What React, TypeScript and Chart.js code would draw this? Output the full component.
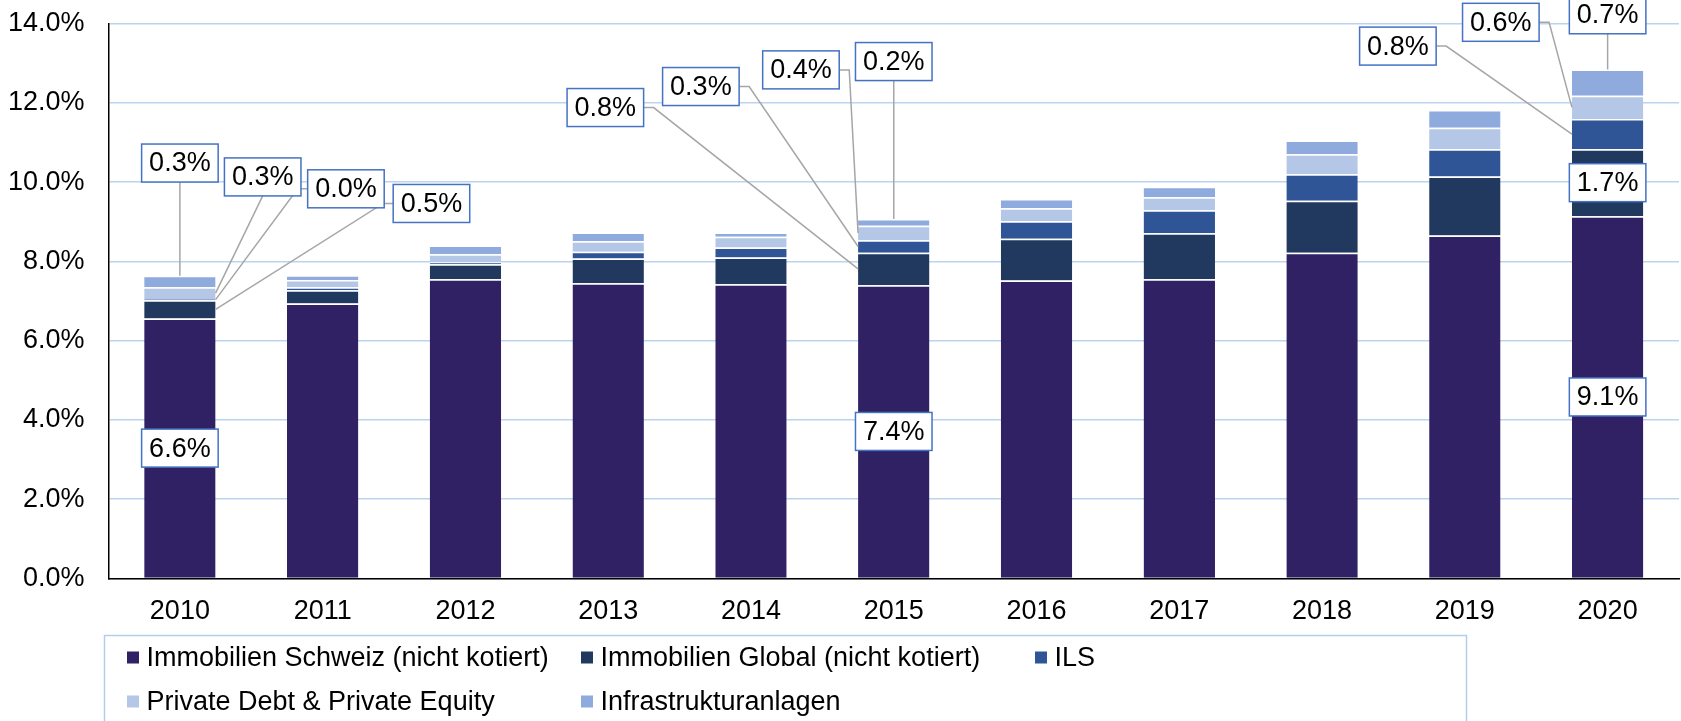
import React, { useEffect, useRef } from 'react';
import { Chart, registerables } from 'chart.js';

Chart.register(...registerables);

// ---------- data ----------
const years = ['2010', '2011', '2012', '2013', '2014', '2015', '2016', '2017', '2018', '2019', '2020'];
const immobilienSchweiz = [6.56, 6.94, 7.55, 7.45, 7.42, 7.40, 7.52, 7.55, 8.22, 8.65, 9.14];
const immobilienGlobal = [0.46, 0.33, 0.38, 0.62, 0.68, 0.82, 1.05, 1.16, 1.31, 1.49, 1.69];
const ils = [0.03, 0.08, 0.05, 0.17, 0.25, 0.31, 0.44, 0.58, 0.67, 0.69, 0.76];
const privateDebtEquity = [0.30, 0.18, 0.20, 0.27, 0.27, 0.37, 0.33, 0.33, 0.50, 0.54, 0.59];
const infrastruktur = [0.29, 0.12, 0.22, 0.22, 0.11, 0.17, 0.23, 0.26, 0.35, 0.45, 0.66];

const seriesNames = [
  'Immobilien Schweiz (nicht kotiert)',
  'Immobilien Global (nicht kotiert)',
  'ILS',
  'Private Debt & Private Equity',
  'Infrastrukturanlagen',
];
const seriesValues = [immobilienSchweiz, immobilienGlobal, ils, privateDebtEquity, infrastruktur];
const seriesColors = ['#2F2163', '#21385F', '#2F5597', '#B4C7E7', '#8FAADC'];

const yMin = 0;
const yMax = 14;
const yStep = 2;

// callouts: which segment is labelled and where its box sits (category offset, percent)
type Callout = { year: string; series: number; mode: 'inside' | 'top' | 'side' | 'bottom'; cx?: number; cy?: number };
const callouts: Callout[] = [
  { year: '2010', series: 0, mode: 'inside' },
  { year: '2010', series: 4, mode: 'top', cx: 0, cy: 10.48 },
  { year: '2010', series: 3, mode: 'bottom', cx: 0.58, cy: 10.13 },
  { year: '2010', series: 2, mode: 'side', cx: 1.163, cy: 9.83 },
  { year: '2010', series: 1, mode: 'side', cx: 1.762, cy: 9.46 },
  { year: '2015', series: 0, mode: 'inside' },
  { year: '2015', series: 1, mode: 'side', cx: -2.02, cy: 11.88 },
  { year: '2015', series: 2, mode: 'side', cx: -1.351, cy: 12.41 },
  { year: '2015', series: 3, mode: 'side', cx: -0.65, cy: 12.83 },
  { year: '2015', series: 4, mode: 'top', cx: 0, cy: 13.04 },
  { year: '2020', series: 0, mode: 'inside' },
  { year: '2020', series: 1, mode: 'inside' },
  { year: '2020', series: 2, mode: 'side', cx: -1.469, cy: 13.43 },
  { year: '2020', series: 3, mode: 'side', cx: -0.748, cy: 14.03 },
  { year: '2020', series: 4, mode: 'top', cx: 0, cy: 14.22 },
];

const FONT_FAMILY = '"Liberation Sans", Arial, Helvetica, sans-serif';
const FONT_SIZE = 27;

const fmt = (v: number) => v.toFixed(1) + '%';

const calloutPlugin = {
  id: 'callouts',
  afterDatasetsDraw(chart: any) {
    const ctx = chart.ctx as CanvasRenderingContext2D;
    const xs = chart.scales.x;
    const ys = chart.scales.y;
    ctx.save();
    ctx.font = `${FONT_SIZE}px ${FONT_FAMILY}`;
    const boxH = 38;
    const padX = 7.5;
    const boxes: any[] = [];
    callouts.forEach((c) => {
      const idx = years.indexOf(c.year);
      const bar = chart.getDatasetMeta(c.series).data[idx];
      if (!bar) return;
      const { x, y, base, width } = bar.getProps(['x', 'y', 'base', 'width'], true);
      const midY = (y + base) / 2;
      const text = fmt(seriesValues[c.series][idx]);
      const w = ctx.measureText(text).width + padX * 2;
      let bx = x;
      let by = midY;
      if (c.mode !== 'inside') {
        bx = xs.getPixelForValue(idx + (c.cx || 0));
        by = ys.getPixelForValue(c.cy || 0);
      }
      boxes.push({ c, text, w, bx, by, x, y, midY, width });
    });
    // leader lines
    ctx.strokeStyle = '#A6A6A6';
    ctx.lineWidth = 1.5;
    boxes.forEach((b) => {
      if (b.c.mode === 'inside') return;
      ctx.beginPath();
      if (b.c.mode === 'top') {
        ctx.moveTo(b.bx, b.by + boxH / 2);
        ctx.lineTo(b.x, b.y);
      } else if (b.c.mode === 'bottom') {
        const edge = b.bx > b.x ? b.x + b.width / 2 : b.x - b.width / 2;
        ctx.moveTo(b.bx, b.by + boxH / 2);
        ctx.lineTo(edge, b.midY);
      } else {
        const right = b.bx > b.x;
        const edge = right ? b.x + b.width / 2 : b.x - b.width / 2;
        const ax = right ? b.bx - b.w / 2 : b.bx + b.w / 2;
        const sx = right ? ax - 10 : ax + 10;
        ctx.moveTo(ax, b.by);
        ctx.lineTo(sx, b.by);
        ctx.lineTo(edge, b.midY);
      }
      ctx.stroke();
    });
    // boxes
    boxes.forEach((b) => {
      const left = b.bx - b.w / 2;
      const top = b.by - boxH / 2;
      ctx.fillStyle = '#FFFFFF';
      ctx.fillRect(left, top, b.w, boxH);
      ctx.strokeStyle = '#4472C4';
      ctx.lineWidth = 1.5;
      ctx.strokeRect(left, top, b.w, boxH);
      ctx.fillStyle = '#000000';
      ctx.textAlign = 'center';
      ctx.textBaseline = 'middle';
      ctx.fillText(b.text, b.bx, b.by + 1);
    });
    ctx.restore();
  },
};

const legendPlugin = {
  id: 'gridLegend',
  afterDraw(chart: any) {
    const ctx = chart.ctx as CanvasRenderingContext2D;
    const area = chart.chartArea;
    ctx.save();
    const boxLeft = area.left - 4;
    const boxTop = area.bottom + 57;
    const boxRight = 1466.5;
    ctx.strokeStyle = '#B4CDEA';
    ctx.lineWidth = 1.5;
    ctx.beginPath();
    ctx.moveTo(boxLeft, chart.height + 5);
    ctx.lineTo(boxLeft, boxTop);
    ctx.lineTo(boxRight, boxTop);
    ctx.lineTo(boxRight, chart.height + 5);
    ctx.stroke();
    ctx.font = `${FONT_SIZE}px ${FONT_FAMILY}`;
    ctx.textBaseline = 'middle';
    ctx.textAlign = 'left';
    const colX = [boxLeft + 22.5, boxLeft + 476.5, boxLeft + 930.5];
    const rowY = [boxTop + 22, boxTop + 66];
    seriesNames.forEach((name, i) => {
      const cx = colX[i % 3];
      const cy = rowY[Math.floor(i / 3)];
      ctx.fillStyle = seriesColors[i];
      ctx.fillRect(cx, cy - 6, 12, 12);
      ctx.fillStyle = '#000000';
      ctx.fillText(name, cx + 19.5, cy + 1);
    });
    ctx.restore();
  },
};

export default function App() {
  const ref = useRef<HTMLCanvasElement | null>(null);
  useEffect(() => {
    if (!ref.current) return;
    Chart.defaults.font.family = FONT_FAMILY;
    Chart.defaults.font.size = FONT_SIZE;
    Chart.defaults.color = '#000000';
    const chart = new Chart(ref.current, {
      type: 'bar',
      data: {
        labels: years,
        datasets: seriesNames.map((name, i) => ({
          label: name,
          data: seriesValues[i],
          backgroundColor: seriesColors[i],
          borderColor: '#FFFFFF',
          borderWidth: { top: 1.5, right: 0, bottom: 0, left: 0 },
          borderSkipped: false,
          barPercentage: 0.5,
          categoryPercentage: 1.0,
        })),
      },
      options: {
        responsive: false,
        animation: false,
        layout: { padding: { top: 23.5, left: 0, right: 2, bottom: 92.5 } },
        plugins: {
          legend: { display: false },
          tooltip: { enabled: false },
        },
        scales: {
          x: {
            stacked: true,
            grid: { display: false, drawTicks: false },
            border: { display: true, color: '#000000', width: 1.5 },
            ticks: { padding: 17, font: { size: FONT_SIZE }, color: '#000000' },
            afterFit: (s: any) => { s.height = 50; },
          },
          y: {
            stacked: true,
            min: yMin,
            max: yMax,
            grid: { color: '#BCD3EE', lineWidth: 1.5, drawTicks: false },
            border: { display: true, color: '#000000', width: 1.5 },
            ticks: {
              stepSize: yStep,
              padding: 24,
              font: { size: FONT_SIZE },
              color: '#000000',
              callback: (v: any) => fmt(Number(v)),
            },
            afterFit: (s: any) => {
              s.width = 108.5;
              s.paddingTop = 0;
              s.paddingBottom = 0;
            },
          },
        },
      },
      plugins: [calloutPlugin, legendPlugin],
    } as any);
    return () => chart.destroy();
  }, []);
  return (
    <div style={{ position: 'absolute', left: 0, top: 0, width: 1681, height: 721, background: '#fff' }}>
      <canvas ref={ref} width={1681} height={721} style={{ display: 'block' }} />
    </div>
  );
}
